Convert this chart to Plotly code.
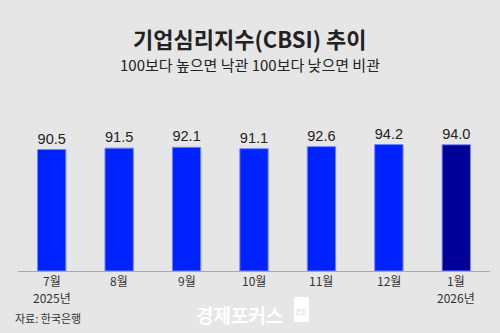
import plotly.graph_objects as go

months = ["7월", "8월", "9월", "10월", "11월", "12월", "1월"]
years = {"7월": "2025년", "1월": "2026년"}
values = [90.5, 91.5, 92.1, 91.1, 92.6, 94.2, 94.0]
colors = ["#0022FF"] * 6 + ["#000099"]
labels = [f"{v:.1f}" for v in values]

BG = "#E6E6E6"
KFONT = "Noto Sans CJK KR"
W, H = 500, 333
ML, MR, MT, MB = 18, 10, 130, 62
PW, PH = W - ML - MR, H - MT - MB

def px(p):
    return (p - ML) / PW

def py(p):
    return (H - MB - p) / PH

fig = go.Figure(go.Bar(
    x=months, y=values, marker=dict(color=colors, line=dict(color="#6f86ff", width=1)),
    text=labels, textposition="outside", cliponaxis=False,
    textfont=dict(family="Liberation Sans", size=15, color="#222222"),
    width=0.42,
))

fig.update_layout(
    width=W, height=H, paper_bgcolor=BG, plot_bgcolor=BG,
    margin=dict(l=ML, r=MR, t=MT, b=MB),
    showlegend=False,
    xaxis=dict(showgrid=False, showline=True, linecolor="#a8a8b8", linewidth=1,
               ticks="", showticklabels=False, range=[-0.5, 6.5]),
    yaxis=dict(visible=False, range=[0, 105]),
)

for m in months:
    fig.add_annotation(text=m, x=m, y=py(280.5), xref="x", yref="paper", showarrow=False,
                       font=dict(family=KFONT, size=12, color="#333333"), borderpad=0,
                       xanchor="center", yanchor="middle")
for m, yr in years.items():
    fig.add_annotation(text=yr, x=m, y=py(297.5), xref="x", yref="paper", showarrow=False,
                       font=dict(family=KFONT, size=12, color="#333333"), borderpad=0,
                       xanchor="center", yanchor="middle")

fig.add_annotation(text="<b>기업심리지수(CBSI) 추이</b>", x=px(250), y=py(38), xref="paper", yref="paper",
                   showarrow=False, font=dict(family=KFONT, size=22, color="#222222"),
                   xanchor="center", yanchor="middle")
fig.add_annotation(text="100보다 높으면 낙관 100보다 낮으면 비관", x=px(250), y=py(64), xref="paper",
                   yref="paper", showarrow=False, font=dict(family=KFONT, size=15, color="#222222"),
                   xanchor="center", yanchor="middle")
fig.add_annotation(text="자료: 한국은행", x=px(13), y=py(318), xref="paper", yref="paper",
                   showarrow=False, font=dict(family=KFONT, size=11, color="#333333"),
                   xanchor="left", yanchor="middle")
fig.add_annotation(text="<b>경제포커스</b>", x=px(239), y=py(314), xref="paper", yref="paper",
                   showarrow=False, font=dict(family=KFONT, size=19, color="#FFFFFF"),
                   xanchor="center", yanchor="middle")
fig.add_shape(type="rect", xref="paper", yref="paper", x0=px(294), x1=px(309),
              y0=py(322), y1=py(297), fillcolor="#FFFFFF", line=dict(width=0))
fig.add_annotation(text="Eti", x=px(301.5), y=py(312), xref="paper", yref="paper",
                   showarrow=False, font=dict(family="Liberation Sans", size=9, color="#DDDDDD"),
                   xanchor="center", yanchor="middle")

fig.write_html("out.html")
